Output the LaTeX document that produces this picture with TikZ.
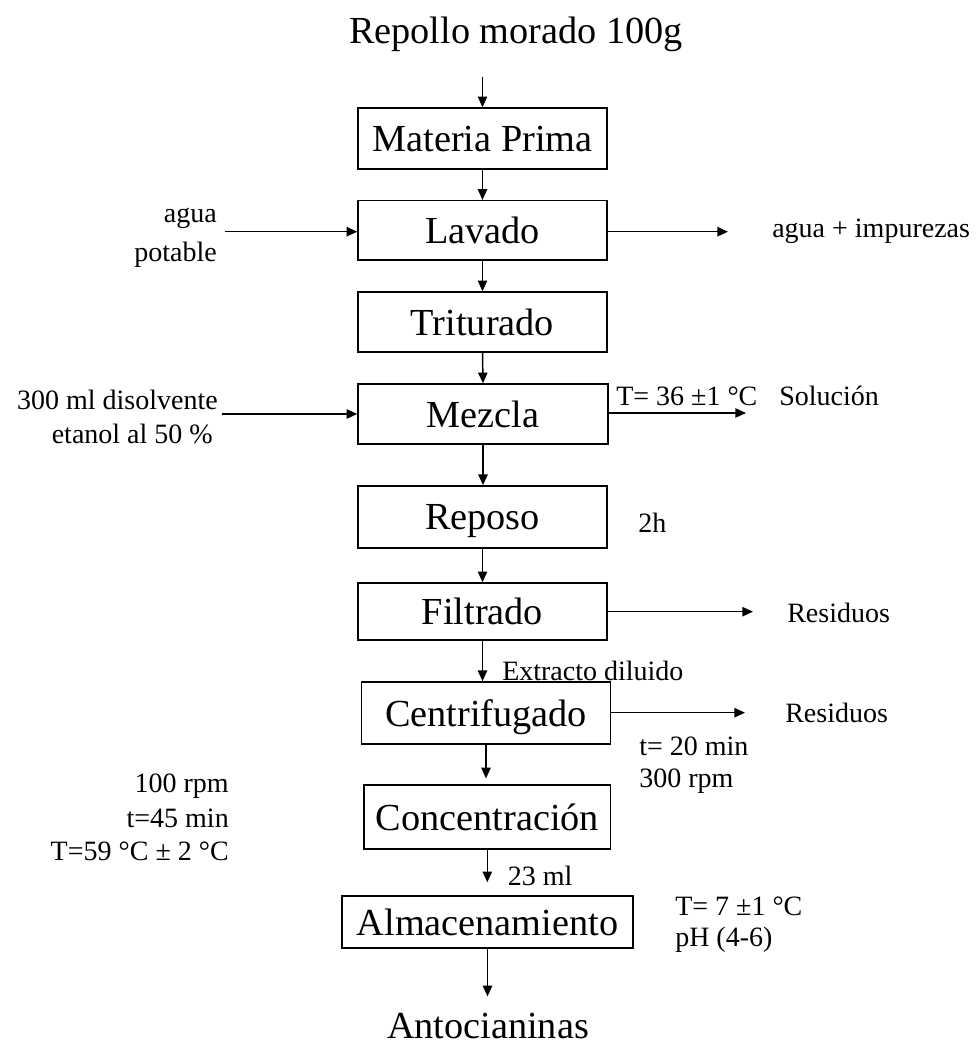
\documentclass[tikz,border=0pt]{standalone}
\usepackage{fontspec}
\setmainfont{Liberation Serif}
\usetikzlibrary{arrows.meta}
\newcommand{\boxfont}{\fontsize{28.7}{34}\selectfont}
\newcommand{\notefont}{\fontsize{21}{25}\selectfont}
\begin{document}
\begin{tikzpicture}[x=0.75pt, y=-0.75pt,
  stage/.style={draw, line width=1.1pt, inner sep=0pt, text depth=0pt, font=\boxfont},
  note/.style={inner sep=0pt, font=\notefont},
  flow/.style={line width=1.1pt, -{Triangle[length=8pt, width=7pt]}}]
\useasboundingbox (0,0) rectangle (977,1045);
% title and product
\node[inner sep=0pt, font=\boxfont, anchor=base] (title) at (516,44) {Repollo morado 100g};
\node[inner sep=0pt, font=\boxfont, anchor=base] (prod) at (488,1038) {Antocianinas};
% process stages
\node[stage, minimum width=186.75pt, minimum height=45.75pt] (mp) at (482.5,138.5) {Materia Prima};
\node[stage, minimum width=186.75pt, minimum height=44.5pt] (lav) at (482.5,230.3) {Lavado};
\node[stage, minimum width=186.75pt, minimum height=45pt] (tri) at (482.5,322) {Triturado};
\node[stage, minimum width=187.5pt, minimum height=45pt] (mez) at (483,414) {Mezcla};
\node[stage, minimum width=186.75pt, minimum height=46.7pt] (rep) at (482.5,517) {Reposo};
\node[stage, minimum width=186.75pt, minimum height=42.75pt] (fil) at (482.5,611.5) {Filtrado};
\node[stage, minimum width=186.75pt, minimum height=46.7pt] (cen) at (486,713) {Centrifugado};
\node[stage, minimum width=185pt, minimum height=47.8pt] (con) at (487.3,817) {Concentración};
\node[stage, minimum width=218.25pt, minimum height=39pt] (alm) at (487.5,922) {Almacenamiento};
% main line
\coordinate (start) at (482.5,77);
\draw[flow] (start) -- (mp.north);
\draw[flow] (mp.south) -- (lav.north);
\draw[flow] (lav.south) -- (tri.north);
\draw[flow] (tri.south) -- (mez.north);
\draw[flow] (mez.south) -- (mez.south |- rep.north);
\draw[flow] (rep.south) -- (fil.north);
\draw[flow] (fil.south) -- (fil.south |- cen.north);
\draw[flow, shorten >=4.5pt] (cen.south) -- (cen.south |- con.north);
\draw[flow, shorten >=9.75pt] (con.south) -- (con.south |- alm.north);
\draw[flow, shorten >=12pt] (alm.south) -- (alm.south |- prod.north);
% inputs
\coordinate (lavin) at (225,231.7);
\draw[flow] (lavin) -- (lavin -| lav.west);
\coordinate (mezin) at (221.7,414);
\draw[flow] (mezin) -- (mezin -| mez.west);
% outputs
\coordinate (lavout) at (728,231.7);
\draw[flow] (lavout -| lav.east) -- (lavout);
\coordinate (mezout) at (746,413);
\draw[flow] (mezout -| mez.east) -- (mezout);
\coordinate (filout) at (753,611.7);
\draw[flow] (filout -| fil.east) -- (filout);
\coordinate (cenout) at (745,712.7);
\draw[flow] (cenout -| cen.east) -- (cenout);
% labels
\node[note, anchor=base east] (agua) at (217,222) {agua};
\node[note, anchor=base east] (potable) at (217,261) {potable};
\node[note, anchor=base west] (impur) at (772,237) {agua + impurezas};
\node[note, anchor=base east] (disol) at (218,409) {300 ml disolvente};
\node[note, anchor=base east] (etanol) at (213,443) {etanol al 50 \%};
\node[note, anchor=base west] (tmez) at (616,405) {T= 36 ±1 °C};
\node[note, anchor=base west] (sol) at (779,405) {Solución};
\node[note, anchor=base west] (hrs) at (638,532) {2h};
\node[note, anchor=base west] (res1) at (787,622) {Residuos};
\node[note, anchor=base west] (ext) at (502,680) {Extracto diluido};
\node[note, anchor=base west] (res2) at (785,722) {Residuos};
\node[note, anchor=base west] (tcen) at (639,755) {t= 20 min};
\node[note, anchor=base west] (rpmcen) at (639,787) {300 rpm};
\node[note, anchor=base east] (rpmcon) at (229,792) {100 rpm};
\node[note, anchor=base east] (tcon) at (229,827) {t=45 min};
\node[note, anchor=base east] (tempcon) at (229,860) {T=59 °C ± 2 °C};
\node[note, anchor=base west] (vol) at (507.5,885) {23 ml};
\node[note, anchor=base west] (talm) at (675,915) {T= 7 ±1 °C};
\node[note, anchor=base west] (ph) at (675,946) {pH (4-6)};
\end{tikzpicture}
\end{document}
